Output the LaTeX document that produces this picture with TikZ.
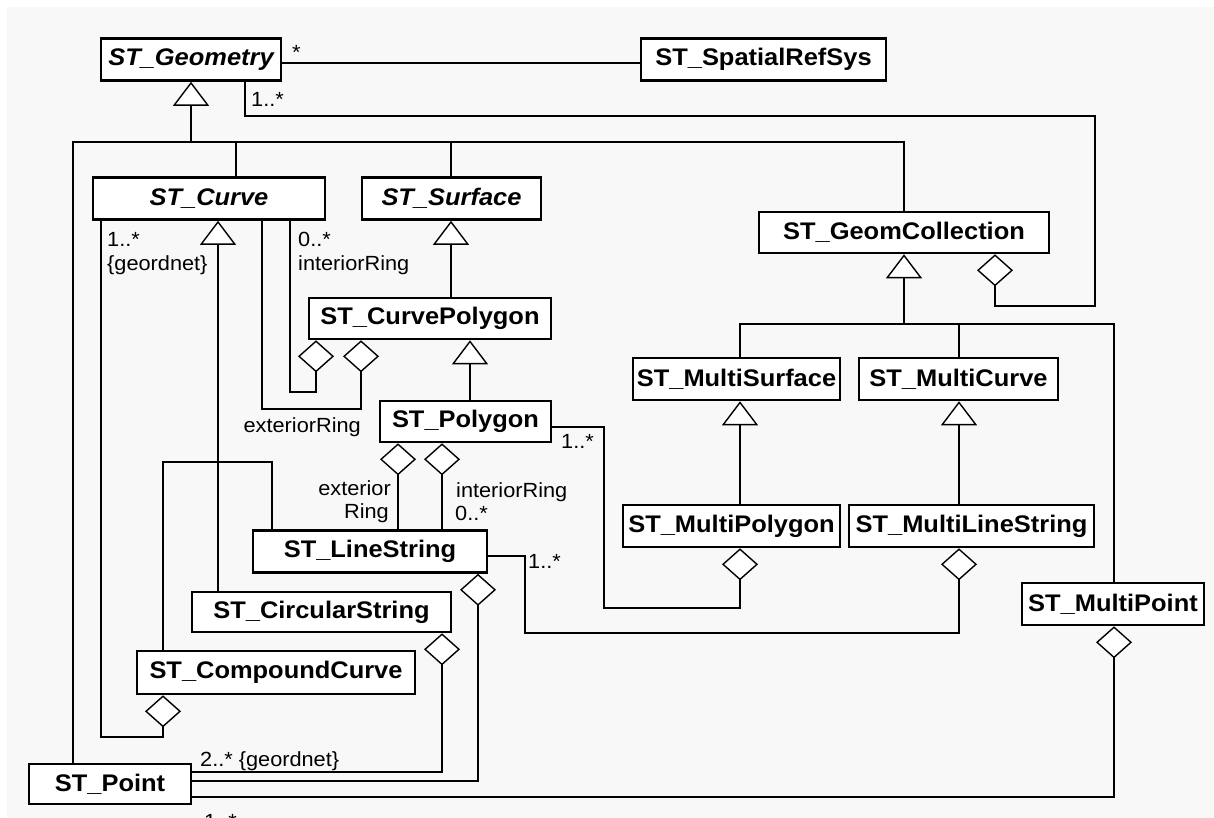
\documentclass[tikz,border=0pt]{standalone}
\usepackage{fontspec}
\setmainfont{Liberation Sans}[FakeStretch=1.06]
\usetikzlibrary{arrows.meta}

\definecolor{paper}{HTML}{F8F8F8}

\tikzset{
  cls/.style={draw, line width=2.6pt, fill=white, inner sep=0pt,
    minimum height=42pt, text=black,
    font=\fontsize{24}{28}\selectfont\bfseries},
  abstractcls/.style={cls, font=\fontsize{24}{28}\selectfont\bfseries\itshape},
  conn/.style={line width=1.4pt},
  gen/.style={conn, -{Triangle[length=24pt, width=36pt, fill=white]}},
  agg/.style={conn, -{Diamond[length=32pt, width=36pt, fill=white]}},
  lbl/.style={font=\fontsize{20.5}{24}\selectfont, inner sep=0pt, text=black},
}

\begin{document}
\begin{tikzpicture}[x=1pt, y=-1pt]
\useasboundingbox (0,0) rectangle (1214,818);
\fill[paper] (7,7) rectangle (1214,818);

% ---- classes ----
\node[abstractcls, minimum width=180pt] (geom)    at (191,59.5)   {ST\_Geometry};
\node[cls, minimum width=245pt]         (srs)     at (763.5,59.5) {ST\_SpatialRefSys};
\node[abstractcls, minimum width=232pt] (curve)   at (209,198.5)  {ST\_Curve};
\node[abstractcls, minimum width=179pt] (surface) at (451.5,198.5){ST\_Surface};
\node[cls, minimum width=290pt, minimum height=41pt] (gc) at (904,232.5) {ST\_GeomCollection};
\node[cls, minimum width=242pt, minimum height=41pt] (cpoly) at (430,318.5) {ST\_CurvePolygon};
\node[cls, minimum width=207pt]         (msurf)   at (736.5,379)  {ST\_MultiSurface};
\node[cls, minimum width=199pt]         (mcurve)  at (958.5,379)  {ST\_MultiCurve};
\node[cls, minimum width=171pt, minimum height=41pt] (poly) at (465.5,421.5) {ST\_Polygon};
\node[cls, minimum width=234pt]         (ls)      at (370,551.5)  {ST\_LineString};
\node[cls, minimum width=217pt]         (mpoly)   at (731.5,526)  {ST\_MultiPolygon};
\node[cls, minimum width=245pt]         (mls)     at (971.5,526)  {ST\_MultiLineString};
\node[cls, minimum width=259pt, minimum height=40pt] (cs) at (321.5,612) {ST\_CircularString};
\node[cls, minimum width=182pt]         (mpoint)  at (1113,604)   {ST\_MultiPoint};
\node[cls, minimum width=278pt, minimum height=43pt] (cc) at (276,672.5) {ST\_CompoundCurve};
\node[cls, minimum width=162pt, minimum height=40pt] (point) at (110,784) {ST\_Point};

% ---- bend and junction points ----
\coordinate (ry)  at (0,63);
\coordinate (gj)  at (191,142);
\coordinate (gjP) at (73,142);
\coordinate (gjC) at (236,142);
\coordinate (gjS) at (451,142);
\coordinate (gjG) at (904,142);
\coordinate (ag1) at (245,116);
\coordinate (ag2) at (1095,306);
\coordinate (ag3) at (995,306);
\coordinate (cj)  at (904,324);
\coordinate (cjS) at (740,324);
\coordinate (cjC) at (959,324);
\coordinate (cjP) at (1114,324);
\coordinate (px)  at (470,0);
\coordinate (kx)  at (218,462);
\coordinate (kl)  at (163,462);
\coordinate (kr)  at (272,462);
\coordinate (c1)  at (101,737);
\coordinate (c2)  at (163,737);
\coordinate (i1)  at (290,392);
\coordinate (i2)  at (316,392);
\coordinate (e1)  at (262,409);
\coordinate (e2)  at (361,409);
\coordinate (pr1) at (398,0);
\coordinate (pr2) at (442,0);
\coordinate (q1)  at (604,427);
\coordinate (q2)  at (604,608);
\coordinate (q3)  at (740,608);
\coordinate (r1)  at (525,556);
\coordinate (r2)  at (525,633);
\coordinate (r3)  at (959,633);
\coordinate (u1)  at (442,772);
\coordinate (w1)  at (478,781);
\coordinate (t1)  at (1114,797);

% ---- association ST_Geometry -- ST_SpatialRefSys ----
\draw[conn] (geom.east |- ry) -- (srs.west |- ry);

% ---- generalisation tree below ST_Geometry ----
\draw[gen] (gj) -- (geom.south);
\draw[conn] (gjP |- point.north) -- (gjP) -- (gjG) -- (gc.north);
\draw[conn] (gjC) -- (gjC |- curve.north);
\draw[conn] (gjS) -- (gjS |- surface.north);

% ---- ST_GeomCollection aggregates ST_Geometry ----
\draw[agg] (ag1 |- geom.south) -- (ag1) -| (ag2) -- (ag3) -- (ag3 |- gc.south);

% ---- generalisation tree below ST_GeomCollection ----
\draw[gen] (cj) -- (gc.south);
\draw[conn] (cjS |- msurf.north) -- (cjS) -- (cjP) -- (cjP |- mpoint.north);
\draw[conn] (cjC) -- (cjC |- mcurve.north);
\draw[gen] (cjS |- mpoly.north) -- (cjS |- msurf.south);
\draw[gen] (cjC |- mls.north) -- (cjC |- mcurve.south);

% ---- surfaces ----
\draw[gen] (gjS |- cpoly.north) -- (gjS |- surface.south);
\draw[gen] (px |- poly.north) -- (px |- cpoly.south);

% ---- curves ----
\draw[gen] (kx |- cs.north) -- (kx |- curve.south);
\draw[conn] (kr |- ls.north) -- (kr) -- (kl) -- (kl |- cc.north);

% ---- aggregations of ST_Curve ----
\draw[agg] (c1 |- curve.south) -- (c1) -- (c2) -- (c2 |- cc.south);
\draw[agg] (i1 |- curve.south) -- (i1) -- (i2) -- (i2 |- cpoly.south);
\draw[agg] (e1 |- curve.south) -- (e1) -- (e2) -- (e2 |- cpoly.south);

% ---- rings of ST_Polygon ----
\draw[agg] (pr1 |- ls.north) -- (pr1 |- poly.south);
\draw[agg] (pr2 |- ls.north) -- (pr2 |- poly.south);

% ---- multi geometries ----
\draw[agg] (poly.east |- q1) -- (q1) -- (q2) -- (q3) -- (q3 |- mpoly.south);
\draw[agg] (ls.east |- r1) -- (r1) -- (r2) -- (r3) -- (r3 |- mls.south);
\draw[agg] (point.east |- t1) -- (t1) -- (t1 |- mpoint.south);

% ---- points of strings ----
\draw[agg] (point.east |- u1) -- (u1) -- (u1 |- cs.south);
\draw[agg] (point.east |- w1) -- (w1) -- (w1 |- ls.south);

% ---- multiplicities and roles ----
\node[lbl, anchor=base west] (m1)  at (292,60)  {*};
\node[lbl, anchor=base west] (m2)  at (251,107) {1..*};
\node[lbl, anchor=base west] (m3)  at (107,247) {1..*};
\node[lbl, anchor=base west] (m4)  at (107,270) {\{geordnet\}};
\node[lbl, anchor=base west] (m5)  at (298,247) {0..*};
\node[lbl, anchor=base west] (m6)  at (298,270) {interiorRing};
\node[lbl, anchor=base east] (m7)  at (361,432) {exteriorRing};
\node[lbl, anchor=base west] (m8)  at (561,448) {1..*};
\node[lbl, anchor=base east] (m9)  at (391,495) {exterior};
\node[lbl, anchor=base east] (m10) at (389,518) {Ring};
\node[lbl, anchor=base west] (m11) at (456,497) {interiorRing};
\node[lbl, anchor=base west] (m12) at (455,520) {0..*};
\node[lbl, anchor=base west] (m13) at (528,568) {1..*};
\node[lbl, anchor=base west] (m14) at (200,766) {2..* \{geordnet\}};
\node[lbl, anchor=base west] (m15) at (204,828) {1..*};
\end{tikzpicture}
\end{document}
